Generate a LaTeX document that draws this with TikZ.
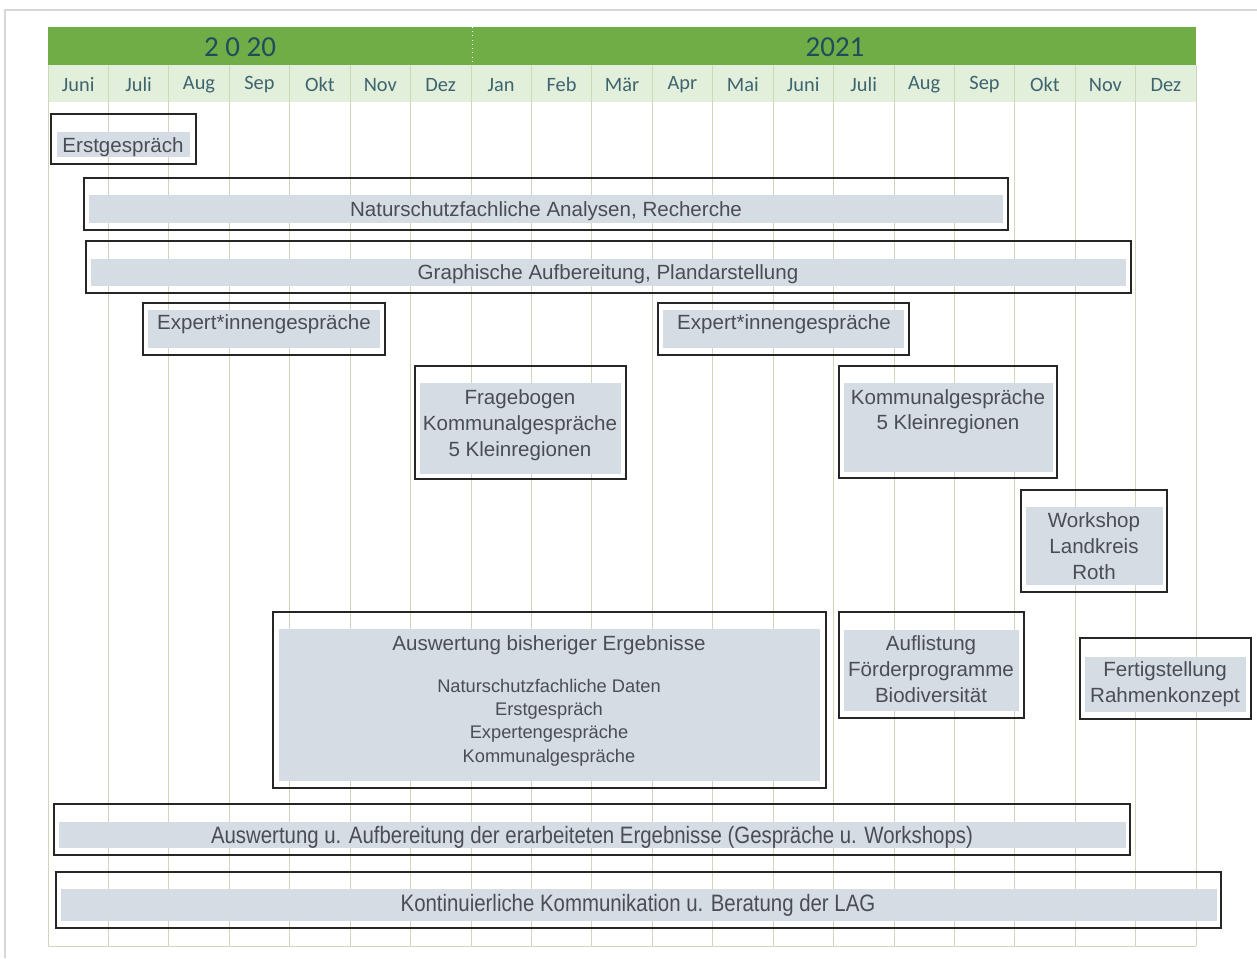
\documentclass[tikz,border=0pt]{standalone}
\usepackage{fontspec}
\setmainfont{Liberation Sans}
\newfontfamily\calib{Carlito}
\newfontfamily\narrowsans[FakeStretch=0.86]{Liberation Sans}

\definecolor{headgreen}{RGB}{112,173,71}
\definecolor{monthgreen}{RGB}{226,239,218}
\definecolor{gridgreen}{RGB}{205,215,188}
\definecolor{bargray}{RGB}{214,220,228}
\definecolor{textgray}{RGB}{75,77,85}
\definecolor{monthtext}{RGB}{62,100,112}
\definecolor{yeartext}{RGB}{30,78,92}
\definecolor{framegray}{RGB}{215,215,215}

\tikzset{
  frame/.style={draw=black!85, line width=1.1pt},
  bar/.style={fill=bargray},
  task/.style={text=textgray, font=\fontsize{11.7}{14.7}\selectfont, align=center, inner sep=0pt, yshift=-1.5pt},
  subtask/.style={text=textgray, font=\fontsize{10.4}{13.2}\selectfont, align=center, inner sep=0pt, yshift=-1.5pt},
  longtask/.style={text=textgray, font=\narrowsans\fontsize{13.5}{15}\selectfont, inner sep=0pt, yshift=-1.5pt},
  month/.style={text=monthtext, font=\calib\fontsize{11.6}{13}\selectfont, inner sep=0pt, yshift=-0.5pt},
  year/.style={text=yeartext, font=\calib\fontsize{16.5}{18}\selectfont, inner sep=0pt, yshift=-0.5pt},
  grid/.style={draw=gridgreen, line width=0.4pt}
}

\begin{document}
\begin{tikzpicture}[x=0.02cm,y=-0.02cm]
  \useasboundingbox (0,0) rectangle (1257,958);
  \draw[framegray, line width=0.8pt] (5,958) -- (5,10) -- (1257,10);

  % Kopfzeile
  \fill[headgreen] (48,27) rectangle (1196,65);
  \draw[white, dotted] (472,27) -- (472,65);
  \fill[monthgreen] (48,65) rectangle (1196,102);
  \foreach \i in {0,...,19}
    \draw[grid] ({48+60.42*\i},65) -- ({48+60.42*\i},946);
  \draw[grid] (48,946) -- (1196,946);
  \node[year] (y2020) at (240,46) {2 0 20};
  \node[year] (y2021) at (835,46) {2021};
  \foreach \m [count=\i from 0] in {Juni,Juli,Aug,Sep,Okt,Nov,Dez,Jan,Feb,Mär,Apr,Mai,Juni,Juli,Aug,Sep,Okt,Nov,Dez}
    \node[month] (m\i) at ({78.2+60.42*\i},84) {\m};

  % Aufgaben
  \draw[frame] (51,114) rectangle (196,164);
  \fill[bar] (57,132) rectangle (190,157);
  \node[task] (erst) at (123,145) {Erstgespräch};

  \draw[frame] (84,178) rectangle (1008,230);
  \fill[bar] (89,195) rectangle (1003,223);
  \node[task] (natur) at (546,209) {Naturschutzfachliche Analysen, Recherche};

  \draw[frame] (86,241) rectangle (1131,293);
  \fill[bar] (91,259) rectangle (1126,286);
  \node[task] (graph) at (608,272) {Graphische Aufbereitung, Plandarstellung};

  \draw[frame] (143,303) rectangle (385,355);
  \fill[bar] (148,310) rectangle (380,348);
  \node[task] (expA) at (264,322) {Expert*innengespräche};

  \draw[frame] (658,303) rectangle (909,355);
  \fill[bar] (663,310) rectangle (904,348);
  \node[task] (expB) at (784,322) {Expert*innengespräche};

  \draw[frame] (415,366) rectangle (626,479);
  \fill[bar] (420,383) rectangle (621,474);
  \node[task] (frage) at (520,422.5) {Fragebogen\\Kommunalgespräche\\5 Kleinregionen};

  \draw[frame] (839,366) rectangle (1057,478);
  \fill[bar] (844,383) rectangle (1053,472);
  \node[task] (kommu) at (948,409) {Kommunalgespräche\\5 Kleinregionen};

  \draw[frame] (1021,490) rectangle (1167,592);
  \fill[bar] (1026,507) rectangle (1163,585);
  \node[task] (work) at (1094,543.5) {Workshop\\Landkreis\\Roth};

  \draw[frame] (273,612) rectangle (826,788);
  \fill[bar] (279,629) rectangle (820,781);
  \node[task] (ausw) at (549,643) {Auswertung bisheriger Ergebnisse};
  \node[subtask] (auswliste) at (549,720) {Naturschutzfachliche Daten\\Erstgespräch\\Expertengespräche\\Kommunalgespräche};

  \draw[frame] (839,612) rectangle (1024,718);
  \fill[bar] (844,630) rectangle (1019,711);
  \node[task] (aufl) at (931,666.5) {Auflistung\\Förderprogramme\\Biodiversität};

  \draw[frame] (1080,638) rectangle (1251,719);
  \fill[bar] (1085,657) rectangle (1246,712);
  \node[task] (fertig) at (1165,681.5) {Fertigstellung\\Rahmenkonzept};

  \draw[frame] (54,804) rectangle (1130,855);
  \fill[bar] (59,822) rectangle (1126,848);
  \node[longtask] (ergeb) at (592,835) {Auswertung u. Aufbereitung der erarbeiteten Ergebnisse (Gespräche u. Workshops)};

  \draw[frame] (56,872) rectangle (1221,928);
  \fill[bar] (61,889) rectangle (1217,921);
  \node[longtask] (lag) at (638,903) {Kontinuierliche Kommunikation u. Beratung der LAG};
\end{tikzpicture}
\end{document}
